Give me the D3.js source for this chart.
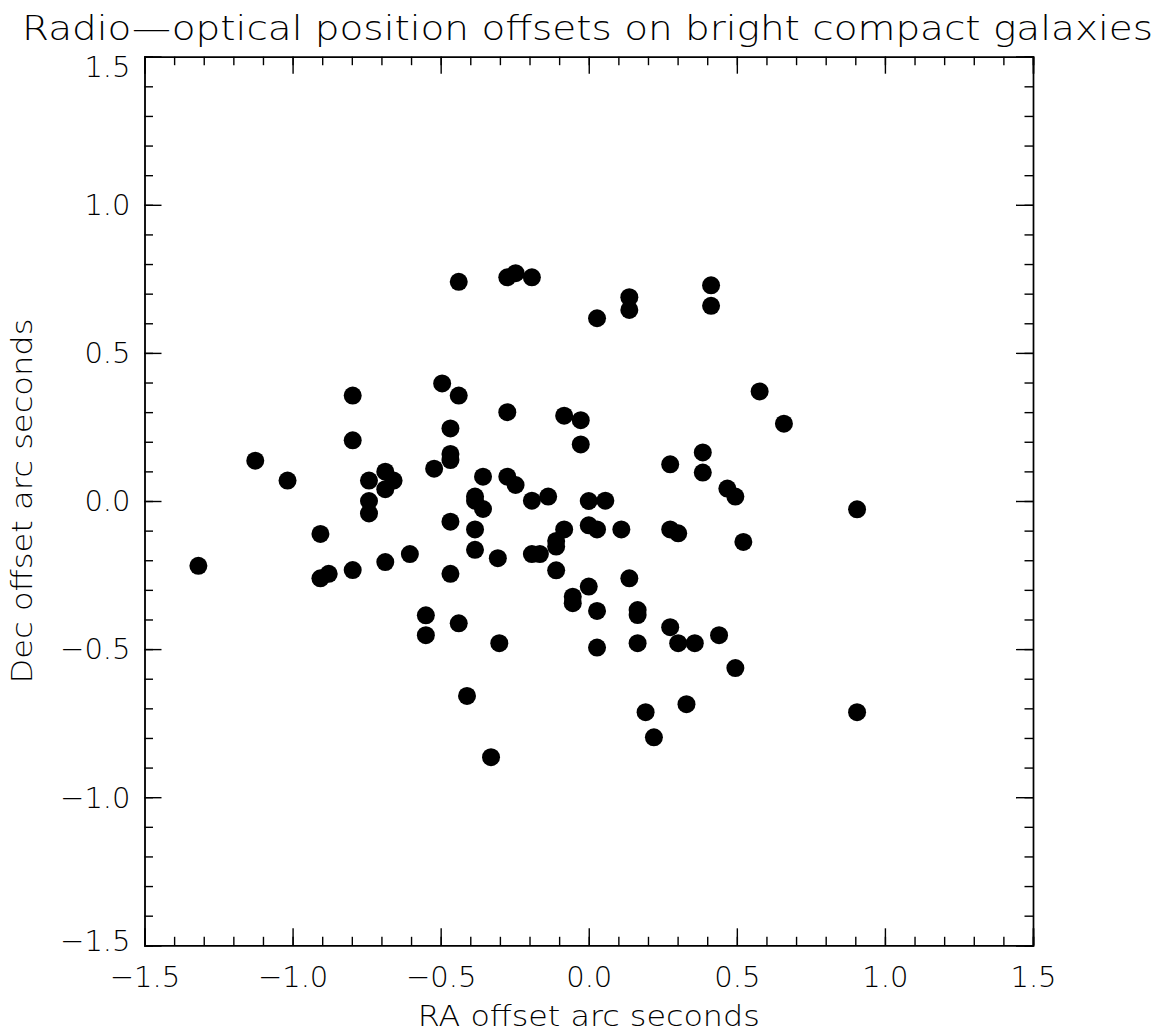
<!DOCTYPE html>
<meta charset="utf-8">
<title>Radio-optical offsets</title>
<script src="https://d3js.org/d3.v7.min.js"></script>
<style>
  body { margin: 0; background: #fff; }
  text { font-family: "DejaVu Sans", "Liberation Sans", sans-serif; font-weight: 200; fill: #000; }
  .domain, .tick line { stroke: #000; stroke-width: 1.4px; }
</style>
<body>
<div id="plot"></div>
<script>

// RA / Dec offsets (arc seconds), one entry per galaxy
var raOffsets = [
  -1.318, -1.126, -1.017, -0.906, -0.906, -0.878, -0.797, -0.797, -0.797, -0.742,
  -0.742, -0.742, -0.687, -0.687, -0.659, -0.687, -0.604, -0.550, -0.550, -0.522,
  -0.495, -0.467, -0.467, -0.467, -0.467, -0.467, -0.439, -0.439, -0.439, -0.411,
  -0.384, -0.384, -0.384, -0.384, -0.357, -0.357, -0.330, -0.307, -0.302, -0.275,
  -0.247, -0.192, -0.275, -0.275, -0.247, -0.192, -0.192, -0.165, -0.137, -0.110,
  -0.110, -0.110, -0.083, -0.083, -0.054, -0.054, -0.027, -0.027,  0.000,  0.000,
   0.000,  0.028,  0.028,  0.028,  0.028,  0.056,  0.110,  0.137,  0.137,  0.137,
   0.165,  0.165,  0.165,  0.192,  0.220,  0.275,  0.275,  0.275,  0.302,  0.302,
   0.330,  0.358,  0.385,  0.385,  0.413,  0.413,  0.440,  0.468,  0.495,  0.495,
   0.522,  0.577,  0.659,  0.906,  0.906
];
var decOffsets = [
  -0.219,  0.136,  0.069, -0.111, -0.261, -0.246,  0.356,  0.205, -0.233,  0.069,
   0.000, -0.042,  0.099,  0.040,  0.069, -0.206, -0.179, -0.386, -0.453,  0.109,
   0.397,  0.245,  0.159,  0.138, -0.070, -0.246,  0.740,  0.356, -0.413, -0.658,
   0.015,  0.001, -0.096, -0.165,  0.082, -0.027, -0.865, -0.193, -0.480,  0.755,
   0.769,  0.755,  0.300,  0.082,  0.054,  0.001, -0.179, -0.179,  0.015, -0.135,
  -0.154, -0.234,  0.288, -0.096, -0.323, -0.345,  0.273,  0.191,  0.000, -0.082,
  -0.289,  0.617, -0.096, -0.371, -0.495,  0.001, -0.096,  0.688,  0.645, -0.261,
  -0.368, -0.385, -0.480, -0.713, -0.798,  0.124, -0.096, -0.426, -0.109, -0.480,
  -0.686, -0.480,  0.164,  0.096,  0.728,  0.659, -0.453,  0.042,  0.015, -0.564,
  -0.138,  0.370,  0.261, -0.028, -0.713
];

var majorTicks = [-1.5, -1.0, -0.5, 0.0, 0.5, 1.0, 1.5];
var minorTicks = d3.range(-15, 16).map(function(i) { return i / 10; });

var titleText = "Radio\u2014optical position offsets on bright compact galaxies";
var xTitle = "RA offset arc seconds";
var yTitle = "Dec offset arc seconds";

var W = 1159, H = 1032;
var margin = {top: 56.7, right: 126, bottom: 86.7, left: 144.5};
var width = W - margin.left - margin.right,
    height = H - margin.top - margin.bottom;

var svg = d3.select("#plot").append("svg")
    .attr("width", W)
    .attr("height", H);

var g = svg.append("g")
    .attr("transform", "translate(" + margin.left + "," + margin.top + ")");

var x = d3.scaleLinear().domain([-1.5, 1.5]).range([0, width]);
var y = d3.scaleLinear().domain([-1.5, 1.5]).range([height, 0]);

var fmt = function(d) { return d3.format(".1f")(d).replace("-", "\u2212"); };
var majLen = 17, minLen = 8.5;

// minor ticks on all four sides, pointing in
g.append("g").attr("transform", "translate(0," + height + ")")
  .call(d3.axisBottom(x).tickValues(minorTicks).tickSize(-minLen).tickFormat(""));
g.append("g")
  .call(d3.axisTop(x).tickValues(minorTicks).tickSize(-minLen).tickFormat(""));
g.append("g")
  .call(d3.axisLeft(y).tickValues(minorTicks).tickSize(-minLen).tickFormat(""));
g.append("g").attr("transform", "translate(" + width + ",0)")
  .call(d3.axisRight(y).tickValues(minorTicks).tickSize(-minLen).tickFormat(""));

// major ticks, labelled bottom and left
var xAxis = g.append("g").attr("transform", "translate(0," + height + ")")
  .call(d3.axisBottom(x).tickValues(majorTicks).tickSize(-majLen).tickPadding(21).tickFormat(fmt));
g.append("g")
  .call(d3.axisTop(x).tickValues(majorTicks).tickSize(-majLen).tickFormat(""));
var yAxis = g.append("g")
  .call(d3.axisLeft(y).tickValues(majorTicks).tickSize(-majLen).tickPadding(14).tickFormat(fmt));
g.append("g").attr("transform", "translate(" + width + ",0)")
  .call(d3.axisRight(y).tickValues(majorTicks).tickSize(-majLen).tickFormat(""));

g.selectAll(".tick text")
  .style("font-size", "29px")
  .style("font-family", "'DejaVu Sans', sans-serif")
  .style("font-weight", 200)
  .attr("fill", "#000");

// end labels on the y axis sit a little inside the box
yAxis.selectAll(".tick text")
  .attr("dy", function(d) { return d === 1.5 ? "0.68em" : d === -1.5 ? "0.18em" : "0.34em"; });

g.selectAll(".domain").attr("stroke-width", 1.5);

// the points
var pts = raOffsets.map(function(r, i) { return [r, decOffsets[i]]; });
g.append("g").selectAll("circle")
  .data(pts)
  .enter().append("circle")
    .attr("cx", function(d) { return x(d[0]); })
    .attr("cy", function(d) { return y(d[1]); })
    .attr("r", 9)
    .attr("fill", "#000");

// titles
svg.append("text")
  .attr("x", 22)
  .attr("y", 40)
  .attr("textLength", 1131)
  .attr("lengthAdjust", "spacingAndGlyphs")
  .style("font-size", "33px")
  .text(titleText);

svg.append("text")
  .attr("x", margin.left + x(0))
  .attr("y", 1026)
  .attr("text-anchor", "middle")
  .attr("textLength", 342)
  .attr("lengthAdjust", "spacingAndGlyphs")
  .style("font-size", "28px")
  .text(xTitle);

svg.append("text")
  .attr("transform", "translate(32," + (margin.top + y(0)) + ") rotate(-90)")
  .attr("text-anchor", "middle")
  .attr("textLength", 365)
  .attr("lengthAdjust", "spacingAndGlyphs")
  .style("font-size", "28px")
  .text(yTitle);

</script>
</body>
